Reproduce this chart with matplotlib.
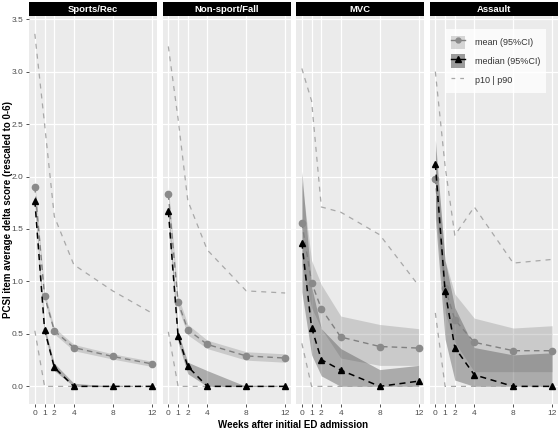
import matplotlib
matplotlib.use("Agg")
import matplotlib.pyplot as plt
from matplotlib.patches import Patch, Rectangle
from matplotlib.lines import Line2D

plt.rcParams['font.family'] = ['Liberation Sans', 'DejaVu Sans']

weeks = [0, 1, 2, 4, 8, 12]
panels = ["Sports/Rec", "Non-sport/Fall", "MVC", "Assault"]

# Sports/Rec
sport_mean = [1.90, 0.86, 0.53, 0.37, 0.285, 0.215]
sport_mean_lo = [1.85, 0.82, 0.50, 0.34, 0.26, 0.19]
sport_mean_hi = [1.95, 0.90, 0.56, 0.40, 0.31, 0.24]
sport_med = [1.77, 0.54, 0.18, 0.0, 0.0, 0.0]
sport_med_lo = [1.72, 0.50, 0.15, 0.0, 0.0, 0.0]
sport_med_hi = [1.82, 0.57, 0.22, 0.03, 0.0, 0.0]
sport_p90 = [3.36, 2.50, 1.62, 1.16, 0.91, 0.70]
sport_p10 = [0.53, 0.0, 0.0, 0.0, 0.0, 0.0]

# Non-sport/Fall
fall_mean = [1.83, 0.80, 0.54, 0.40, 0.29, 0.27]
fall_mean_lo = [1.76, 0.75, 0.49, 0.36, 0.25, 0.23]
fall_mean_hi = [1.90, 0.86, 0.59, 0.44, 0.33, 0.31]
fall_med = [1.67, 0.48, 0.19, 0.0, 0.0, 0.0]
fall_med_lo = [1.60, 0.42, 0.12, 0.0, 0.0, 0.0]
fall_med_hi = [1.75, 0.52, 0.23, 0.15, 0.0, 0.0]
fall_p90 = [3.24, 2.55, 1.77, 1.30, 0.91, 0.89]
fall_p10 = [0.52, 0.0, 0.0, 0.0, 0.0, 0.0]

# MVC
mvc_mean = [1.56, 0.99, 0.74, 0.47, 0.38, 0.365]
mvc_mean_lo = [1.15, 0.75, 0.55, 0.27, 0.20, 0.20]
mvc_mean_hi = [1.95, 1.20, 0.97, 0.67, 0.59, 0.55]
mvc_med = [1.37, 0.56, 0.255, 0.155, 0.0, 0.05]
mvc_med_lo = [0.90, 0.30, 0.10, 0.0, 0.0, 0.0]
mvc_med_hi = [2.05, 0.95, 0.55, 0.36, 0.16, 0.20]
mvc_p90 = [3.03, 2.72, 1.71, 1.66, 1.445, 0.96]
mvc_p10 = [0.41, 0.0, 0.0, 0.0, 0.0, 0.0]

# Assault
asl_mean = [1.98, 0.94, 0.635, 0.42, 0.34, 0.34]
asl_mean_lo = [1.70, 0.70, 0.42, 0.14, 0.14, 0.14]
asl_mean_hi = [2.25, 1.20, 0.88, 0.65, 0.556, 0.578]
asl_med = [2.12, 0.91, 0.37, 0.11, 0.0, 0.0]
asl_med_lo = [1.60, 0.45, 0.06, 0.0, 0.0, 0.0]
asl_med_hi = [2.35, 1.20, 0.75, 0.37, 0.30, 0.32]
asl_p90 = [3.00, 2.10, 1.44, 1.71, 1.175, 1.21]
asl_p10 = [0.70, 0.0, 0.0, 0.0, 0.0, 0.0]

series = [
    (sport_mean, sport_mean_lo, sport_mean_hi, sport_med, sport_med_lo, sport_med_hi, sport_p90, sport_p10),
    (fall_mean, fall_mean_lo, fall_mean_hi, fall_med, fall_med_lo, fall_med_hi, fall_p90, fall_p10),
    (mvc_mean, mvc_mean_lo, mvc_mean_hi, mvc_med, mvc_med_lo, mvc_med_hi, mvc_p90, mvc_p10),
    (asl_mean, asl_mean_lo, asl_mean_hi, asl_med, asl_med_lo, asl_med_hi, asl_p90, asl_p10),
]

bg = '#ebebeb'
mean_fill = dict(color='#808080', alpha=0.3, lw=0)
med_fill = dict(color='#4d4d4d', alpha=0.4, lw=0)
pct_col = '#a8a8a8'

fig = plt.figure(figsize=(5.6, 4.29), dpi=100)
gs = fig.add_gridspec(1, 4, left=29/560, right=558/560, bottom=1-404/429, top=1-16/429, wspace=0.039)

for i, name in enumerate(panels):
    ax = fig.add_subplot(gs[0, i])
    m, mlo, mhi, md, mdlo, mdhi, p90, p10 = series[i]
    ax.set_facecolor(bg)
    ax.fill_between(weeks, mlo, mhi, **mean_fill)
    ax.fill_between(weeks, mdlo, mdhi, **med_fill)
    ax.plot(weeks, p90, color=pct_col, lw=0.9, ls=(0, (4, 4)))
    ax.plot(weeks, p10, color=pct_col, lw=0.9, ls=(0, (4, 4)))
    ax.plot(weeks, m, color='#808080', lw=1.0, ls=(0, (4, 3)), marker='o', ms=4.5, mfc='#8a8a8a', mec='#8a8a8a')
    ax.plot(weeks, md, color='black', lw=1.1, ls=(0, (4, 3)), marker='^', ms=5, mfc='black', mec='black')

    ax.set_xlim(-0.6, 12.6)
    ax.set_ylim(-0.168, 3.53)
    ax.set_xticks(weeks)
    ax.set_yticks([0, 0.5, 1.0, 1.5, 2.0, 2.5, 3.0, 3.5])
    ax.grid(True, color='white', lw=0.9)
    ax.set_axisbelow(True)
    for s in ax.spines.values():
        s.set_visible(False)
    ax.tick_params(length=2.5, width=0.6, color='#333333', labelsize=6.0, labelcolor='#4d4d4d', pad=1.5)
    if i == 0:
        ax.set_yticklabels(['0.0', '0.5', '1.0', '1.5', '2.0', '2.5', '3.0', '3.5'])
    else:
        ax.tick_params(axis='y', labelleft=False, length=0)

    # facet strip
    ax.add_patch(Rectangle((0, 1.0), 1, 14/388, transform=ax.transAxes, clip_on=False,
                           facecolor='black', edgecolor='none'))
    ax.text(0.5, 1 + 7/388, name, transform=ax.transAxes, ha='center', va='center',
            color='white', fontsize=6.8, fontweight='bold')

    if i == 3:
        h_mean = (Patch(facecolor='#808080', alpha=0.3, lw=0),
                  Line2D([], [], color='#808080', lw=1.0, marker='o', ms=3.5, mfc='#8a8a8a', mec='#8a8a8a'))
        h_med = (Patch(facecolor='#4d4d4d', alpha=0.55, lw=0),
                 Line2D([], [], color='black', lw=1.0, marker='^', ms=4, mfc='black', mec='black'))
        h_pct = Line2D([], [], color=pct_col, lw=0.9, ls=(0, (3, 4)))
        leg = ax.legend([h_mean, h_med, h_pct], ['mean (95%CI)', 'median (95%CI)', 'p10 | p90'],
                        loc='upper left', bbox_to_anchor=(0.117, 0.966), borderaxespad=0,
                        fontsize=6.5, frameon=True, fancybox=False, handlelength=1.55,
                        handleheight=1.9, labelspacing=0.6, handletextpad=1.1,
                        borderpad=0.7)
        leg.get_frame().set_facecolor('white')
        leg.get_frame().set_edgecolor('none')
        for t in leg.get_texts():
            t.set_color('#333333')

fig.text(293.5/560, 1-424.5/429, 'Weeks after initial ED admission', ha='center', va='center',
         fontsize=7, fontweight='bold')
fig.text(8/560, 1-210/429, 'PCSI item average delta score (rescaled to 0-6)', ha='center', va='center',
         rotation=90, fontsize=7, fontweight='bold')

fig.savefig('out.png', dpi=100)
